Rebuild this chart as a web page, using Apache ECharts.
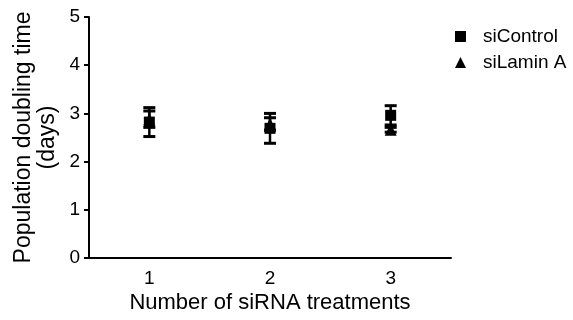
<!DOCTYPE html>
<html><head><meta charset="utf-8">
<script src="https://cdn.jsdelivr.net/npm/echarts@6/dist/echarts.min.js"></script>
<style>html,body{margin:0;padding:0;background:#fff}#c{width:573px;height:320px}</style>
</head><body><div id="c"></div>
<script>
const categories = ['1', '2', '3'];
const siControl = [2.82, 2.69, 2.96];
const siControlErr = [0.30, 0.31, 0.20];
const siLaminA = [2.88, 2.78, 2.66];
const siLaminAErr = [0.17, 0.13, 0.05];
const yTicks = [0, 1, 2, 3, 4, 5];

const chart = echarts.init(document.getElementById('c'));
const font = 'Liberation Sans, Arial, sans-serif';

function errSeries(name, vals, errs) {
  return {
    type: 'custom', name: name + ' err', z: 1,
    data: vals.map((v, i) => [i, v - errs[i], v + errs[i]]),
    renderItem: function (params, api) {
      const x = api.value(0);
      const lo = api.coord([x, api.value(1)]);
      const hi = api.coord([x, api.value(2)]);
      const w = 6;
      const st = { stroke: '#000', lineWidth: 2.5 };
      const cap = { stroke: '#000', lineWidth: 3 };
      return { type: 'group', children: [
        { type: 'line', shape: { x1: lo[0], y1: lo[1], x2: hi[0], y2: hi[1] }, style: st },
        { type: 'line', shape: { x1: hi[0] - w, y1: hi[1], x2: hi[0] + w, y2: hi[1] }, style: cap },
        { type: 'line', shape: { x1: lo[0] - w, y1: lo[1], x2: lo[0] + w, y2: lo[1] }, style: cap }
      ]};
    },
    silent: true
  };
}

chart.setOption({
  animation: false,
  backgroundColor: '#fff',
  grid: { left: 89, right: 122, top: 17, bottom: 62, outerBoundsMode: 'none', containLabel: false },
  legend: {
    left: 450, top: 22, orient: 'vertical', itemGap: 7, itemWidth: 11, itemHeight: 11,
    textStyle: { fontFamily: font, fontSize: 19, color: '#000', padding: [0, 0, 0, 12] },
    data: [{ name: 'siControl', icon: 'rect', itemStyle: { color: '#000', opacity: 1 } },
           { name: 'siLamin A', icon: 'triangle', itemStyle: { color: '#000', opacity: 1 } }]
  },
  xAxis: {
    type: 'category', data: categories, boundaryGap: true,
    name: 'Number of siRNA treatments', nameLocation: 'middle', nameGap: 34, nameMoveOverlap: false,
    nameTextStyle: { fontFamily: font, fontSize: 22, color: '#000' },
    axisLine: { lineStyle: { color: '#000', width: 2 } },
    axisTick: { alignWithLabel: true, length: 6, lineStyle: { color: '#000', width: 2 } },
    axisLabel: { fontFamily: font, fontSize: 19, color: '#000', margin: 11 }
  },
  yAxis: {
    type: 'value', min: yTicks[0], max: yTicks[yTicks.length - 1], interval: 1,
    name: 'Population doubling time\n(days)', nameLocation: 'middle', nameGap: 29, nameMoveOverlap: false,
    nameTextStyle: { fontFamily: font, fontSize: 23, color: '#000', lineHeight: 24 },
    axisLine: { show: true, lineStyle: { color: '#000', width: 2 } },
    axisTick: { show: true, length: 5, lineStyle: { color: '#000', width: 2 } },
    axisLabel: { fontFamily: font, fontSize: 19, color: '#000', margin: 9 },
    splitLine: { show: false }
  },
  series: [
    errSeries('siControl', siControl, siControlErr),
    errSeries('siLamin A', siLaminA, siLaminAErr),
    { name: 'siControl', type: 'scatter', symbol: 'rect', symbolSize: 11, z: 3,
      itemStyle: { color: '#000', opacity: 1 }, data: siControl },
    { name: 'siLamin A', type: 'scatter', symbol: 'triangle', symbolSize: 12, z: 4,
      itemStyle: { color: '#000', opacity: 1 }, data: siLaminA }
  ]
});
</script></body></html>
